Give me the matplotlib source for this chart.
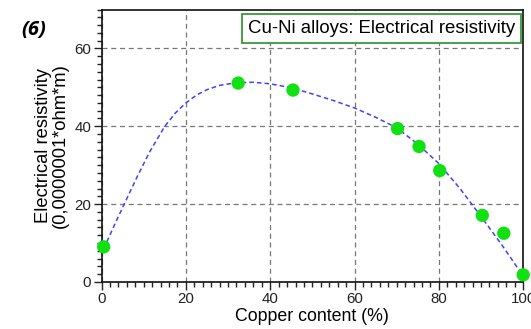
import numpy as np
import matplotlib
matplotlib.use("Agg")
import matplotlib.pyplot as plt
from matplotlib.ticker import MultipleLocator

# measured points (copper %, resistivity)
cu_pct = [0.5, 32.4, 45.4, 70.2, 75.3, 80.2, 90.3, 95.4, 100.0]
resist = [9.0, 51.1, 49.3, 39.4, 34.8, 28.6, 17.1, 12.5, 1.8]

# fitted trend line
fit_x = [0.5, 3, 5.5, 8.7, 11.5, 15, 17.5, 20, 22.5, 25, 28, 32, 36, 40,
         45, 50, 55, 60, 65, 70, 75, 80, 85, 90, 95, 100]
fit_y = [8.5, 14.5, 20.3, 27.6, 33.6, 40.0, 43.4, 46.0, 48.0, 49.4, 50.5,
         51.2, 51.3, 50.9, 49.9, 48.3, 46.6, 44.7, 42.3, 39.6, 35.4, 30.4,
         24.0, 16.8, 9.4, 1.5]

plt.rcParams['font.family'] = ['Liberation Sans', 'DejaVu Sans']

fig = plt.figure(figsize=(5.31, 3.29), dpi=100)
ax = fig.add_axes([0.1913, 0.1432, 0.7940, 0.8279])

ax.plot(fit_x, fit_y, color='#4040ff', lw=1.1, ls=(0, (3, 2)), zorder=3)
ax.scatter(cu_pct, resist, s=92, color='#11e011', edgecolors='none',
           zorder=4, clip_on=False)

ax.set_xlim(0, 100)
ax.set_ylim(0, 70)
ax.xaxis.set_major_locator(MultipleLocator(20))
ax.xaxis.set_minor_locator(MultipleLocator(2))
ax.yaxis.set_major_locator(MultipleLocator(20))
ax.yaxis.set_minor_locator(MultipleLocator(2))
ax.tick_params(which='major', direction='out', length=6, width=1,
               labelsize=10.8, colors='#222222', pad=1.5)
ax.tick_params(which='minor', direction='out', length=3.5, width=1,
               colors='#222222')
ax.grid(True, which='major', color='#777777', ls=(0, (4, 3)), lw=0.9)
for sp in ax.spines.values():
    sp.set_linewidth(1.2)
    sp.set_color('#111111')

ax.set_xlabel('Copper content (%)', fontsize=12.8, labelpad=1.5)
ax.set_ylabel('Electrical resistivity\n(0,0000001*ohm*m)', fontsize=13.2,
              linespacing=0.95)
ax.yaxis.set_label_coords(-0.078, 0.5)

ax.text(0.9806, 0.930, 'Cu-Ni alloys: Electrical resistivity',
        transform=ax.transAxes, ha='right', va='center', fontsize=13.4,
        bbox=dict(boxstyle='square,pad=0.3', fc='white', ec='#3a9a3a', lw=1.3),
        zorder=5)

fig.text(0.064, 0.910, '(6)', fontsize=14.5, fontweight='bold',
         fontstyle='italic', ha='center', va='center',
         family=['Open Sans', 'DejaVu Sans'])

fig.savefig('out.png', dpi=100)
